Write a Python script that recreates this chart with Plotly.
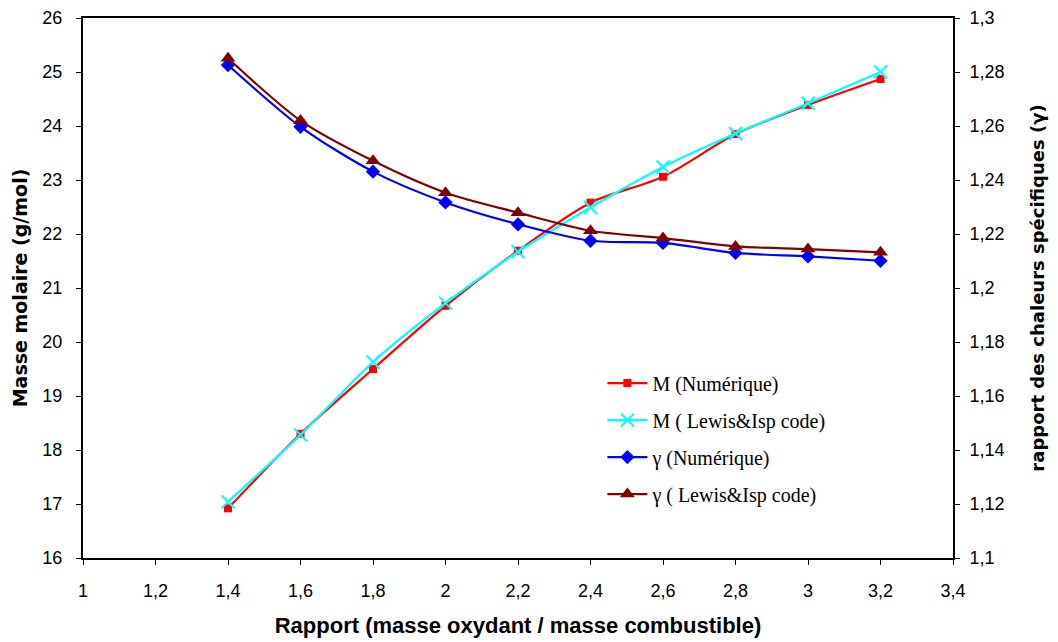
import plotly.graph_objects as go

# Rapport O/F
rapport = [1.4, 1.6, 1.8, 2.0, 2.2, 2.4, 2.6, 2.8, 3.0, 3.2]

# Masse molaire (g/mol)
M_numerique = [16.92, 18.30, 19.50, 20.67, 21.69, 22.58, 23.06, 23.85, 24.39, 24.87]
M_lewis = [17.04, 18.28, 19.63, 20.72, 21.67, 22.49, 23.24, 23.86, 24.42, 25.00]

# Rapport des chaleurs spécifiques
gamma_numerique = [1.2826, 1.2597, 1.2431, 1.2317, 1.2236, 1.2175, 1.2167, 1.2130, 1.2117, 1.2101]
gamma_lewis = [1.2851, 1.2620, 1.2471, 1.2353, 1.2279, 1.2212, 1.2185, 1.2154, 1.2144, 1.2132]

x_ticks = [1.0, 1.2, 1.4, 1.6, 1.8, 2.0, 2.2, 2.4, 2.6, 2.8, 3.0, 3.2, 3.4]
x_ticktext = ["1", "1,2", "1,4", "1,6", "1,8", "2", "2,2", "2,4", "2,6", "2,8", "3", "3,2", "3,4"]
y_ticks = list(range(16, 27))
y2_ticks = [1.10, 1.12, 1.14, 1.16, 1.18, 1.20, 1.22, 1.24, 1.26, 1.28, 1.30]
y2_ticktext = ["1,1", "1,12", "1,14", "1,16", "1,18", "1,2", "1,22", "1,24", "1,26", "1,28", "1,3"]

SANS = "Liberation Sans, Arial, sans-serif"
WIDE = "DejaVu Sans, Liberation Sans, sans-serif"
SERIF = "Liberation Serif, Times New Roman, serif"

fig = go.Figure()

fig.add_trace(go.Scatter(
    x=rapport, y=M_numerique, name="M (Numérique)", legendgroup="a",
    mode="lines+markers", line=dict(color="#ff0000", width=2.2, shape="spline", smoothing=0.8),
    marker=dict(symbol="square", size=8, color="#ff0000"),
))
fig.add_trace(go.Scatter(
    x=rapport, y=M_lewis, name="M ( Lewis&Isp code)", legendgroup="b",
    mode="lines+markers", line=dict(color="#00ffff", width=2.2, shape="spline", smoothing=0.8),
    marker=dict(symbol="x-thin", size=13, color="#00ffff", line=dict(color="#00ffff", width=2)),
))
fig.add_trace(go.Scatter(
    x=rapport, y=gamma_numerique, name="γ (Numérique)", legendgroup="c", yaxis="y2",
    mode="lines+markers", line=dict(color="#0000ff", width=2.2, shape="spline", smoothing=0.8),
    marker=dict(symbol="diamond", size=11, color="#0000ff"),
))
fig.add_trace(go.Scatter(
    x=rapport, y=gamma_lewis, name="γ ( Lewis&Isp code)", legendgroup="d", yaxis="y2",
    mode="lines+markers", line=dict(color="#800000", width=2.2, shape="spline", smoothing=0.8),
    marker=dict(symbol="triangle-up", size=13, color="#800000"),
))

fig.update_layout(
    width=1058, height=642,
    margin=dict(l=83, r=105, t=18, b=84),
    paper_bgcolor="white", plot_bgcolor="white",
    showlegend=True,
    legend=dict(
        x=0.597, y=0.36, xanchor="left", yanchor="top",
        font=dict(family=SERIF, size=20, color="black"),
        bgcolor="rgba(0,0,0,0)", tracegroupgap=8, itemwidth=40,
    ),
    xaxis=dict(
        range=[1, 3.4], tickvals=x_ticks, ticktext=x_ticktext, automargin=False,
        showgrid=False, zeroline=False,
        showline=True, linecolor="black", linewidth=2, mirror=True,
        ticks="outside", ticklen=5, tickcolor="black", ticklabelstandoff=10,
        tickfont=dict(family=SANS, size=18, color="black"),
        title=dict(text="<b>Rapport (masse oxydant / masse combustible)</b>",
                   font=dict(family=SANS, size=22, color="black"), standoff=18),
    ),
    yaxis=dict(
        range=[16, 26], tickvals=y_ticks, automargin=False,
        showgrid=False, zeroline=False,
        showline=True, linecolor="black", linewidth=2, mirror=True,
        ticks="outside", ticklen=5, tickcolor="black", ticklabelstandoff=10,
        tickfont=dict(family=SANS, size=18, color="black"),
        title=dict(text="<b>Masse molaire (g/mol)</b>",
                   font=dict(family=WIDE, size=19, color="black"), standoff=10),
    ),
    yaxis2=dict(
        range=[1.1, 1.3], tickvals=y2_ticks, ticktext=y2_ticktext,
        overlaying="y", side="right", automargin=False,
        showgrid=False, zeroline=False,
        showline=True, linecolor="black", linewidth=2,
        ticks="outside", ticklen=5, tickcolor="black", ticklabelstandoff=6,
        tickfont=dict(family=SANS, size=18, color="black"),
        title=dict(text="<b>rapport des chaleurs spécifiques (γ)</b>",
                   font=dict(family=WIDE, size=18, color="black"), standoff=28),
    ),
)

fig.write_html("out.html")
